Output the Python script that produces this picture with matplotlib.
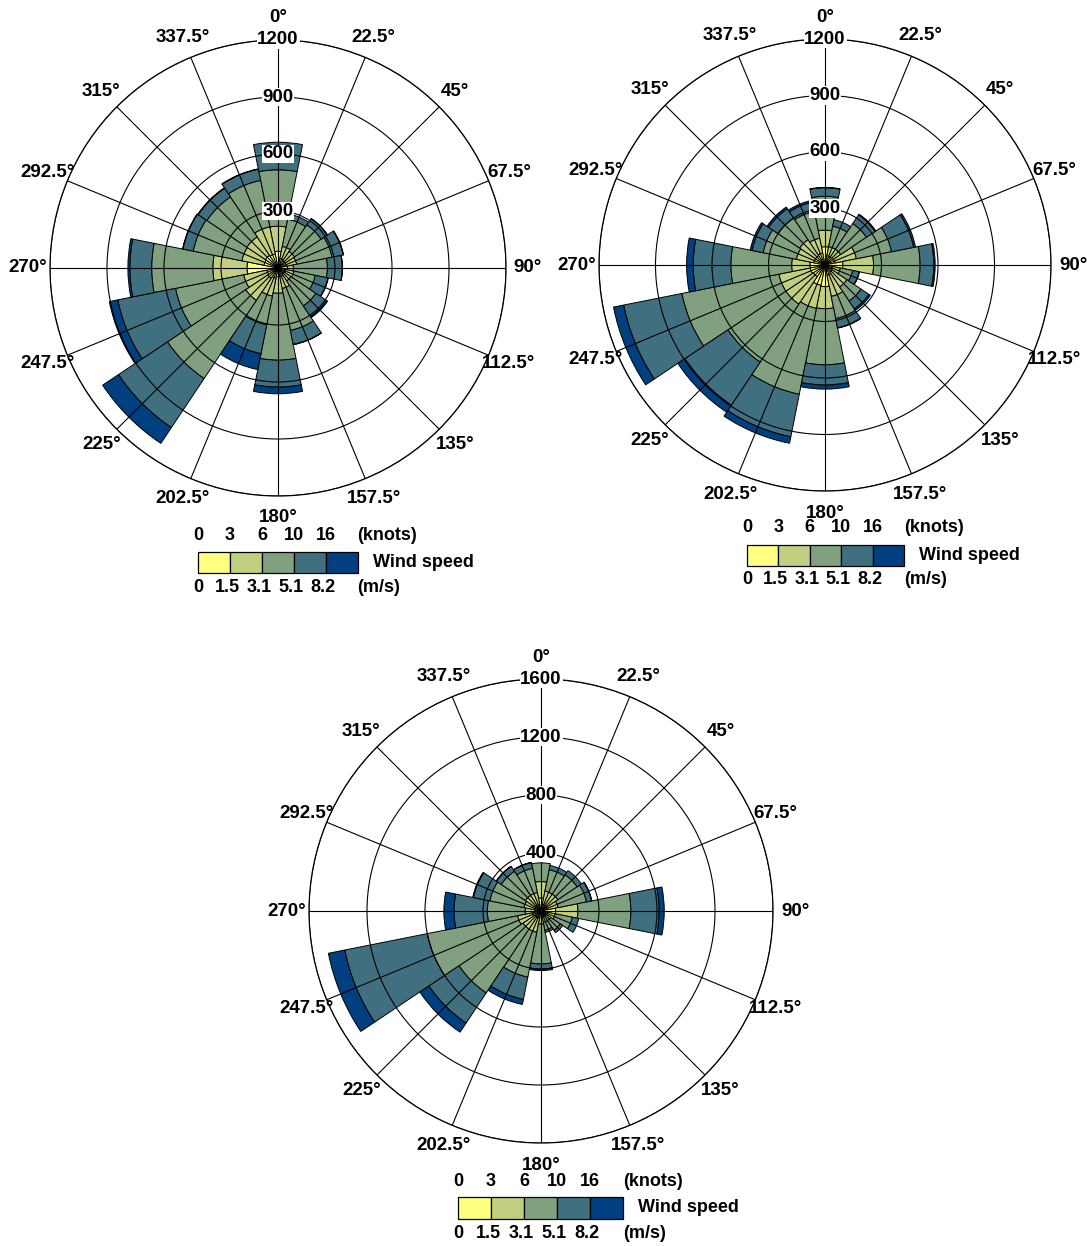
import numpy as np
import matplotlib
matplotlib.use('Agg')
import matplotlib.pyplot as plt
from matplotlib.patches import Rectangle

plt.rcParams['font.family'] = ['Liberation Sans', 'DejaVu Sans']

W, H = 1087, 1246

# ---------------- data ----------------
directions = np.arange(0, 360, 22.5)          # N, NNE, ... NNW (clockwise)
dir_labels = [f"{d:g}\u00b0" for d in directions]

speed_colors = ['#FFFF80', '#C0D080', '#80A080', '#407080', '#004080']
knots_labels = ['0', '3', '6', '10', '16']
ms_labels = ['0', '1.5', '3.1', '5.1', '8.2']

# Rose 1 (top-left): counts per speed class, per direction
r1_c1 = [88, 50, 45, 45, 50, 40, 40, 45, 45, 55, 65, 60, 163, 75, 80, 75]
r1_c2 = [132, 66, 60, 55, 31, 46, 42, 65, 88, 96, 140, 124, 180, 119, 117, 146]
r1_c3 = [297, 146, 168, 190, 179, 114, 158, 225, 352, 154, 495, 366, 322, 261, 253, 249]
r1_c4 = [145, 28, 39, 60, 78, 68, 68, 75, 142, 155, 310, 310, 115, 55, 55, 60]
r1_c5 = [0, 0, 2, 2, 1, 2, 6, 2, 35, 85, 100, 45, 10, 2, 3, 2]
r1_ticks = [300, 600, 900, 1200]

# Rose 2 (top-right)
r2_c1 = [97, 50, 50, 55, 95, 40, 45, 55, 115, 110, 75, 80, 80, 60, 60, 65]
r2_c2 = [88, 50, 50, 115, 163, 43, 95, 115, 117, 125, 175, 170, 97, 95, 102, 80]
r2_c3 = [180, 110, 165, 190, 247, 67, 90, 120, 298, 465, 370, 525, 323, 180, 138, 145]
r2_c4 = [45, 35, 55, 120, 73, 35, 50, 50, 107, 230, 275, 315, 200, 60, 60, 50]
r2_c5 = [2, 0, 5, 10, 7, 1, 10, 2, 22, 35, 45, 55, 35, 10, 10, 10]
r2_ticks = [300, 600, 900, 1200]

# Rose 3 (bottom)
r3_c1 = [90, 45, 45, 45, 100, 45, 40, 40, 40, 50, 50, 60, 40, 45, 45, 45]
r3_c2 = [113, 95, 95, 75, 155, 55, 40, 40, 50, 100, 100, 105, 70, 75, 85, 85]
r3_c3 = [129, 150, 160, 200, 365, 120, 80, 55, 275, 315, 530, 635, 260, 240, 200, 170]
r3_c4 = [0, 30, 35, 35, 195, 45, 20, 15, 35, 157, 250, 580, 230, 115, 40, 40]
r3_c5 = [0, 0, 0, 3, 35, 0, 0, 0, 11, 35, 75, 115, 70, 5, 2, 2]
r3_ticks = [400, 800, 1200, 1600]

# ---------------- figure ----------------
fig = plt.figure(figsize=(W / 100, H / 100), dpi=100)

ov = fig.add_axes([0, 0, 1, 1])
ov.set_xlim(0, W)
ov.set_ylim(H, 0)
ov.axis('off')

FS = 13.5


def draw_rose(cx, cy, rpx, ticks, classes):
    rmax = ticks[-1]
    ax = fig.add_axes([(cx - rpx) / W, 1 - (cy + rpx) / H, 2 * rpx / W, 2 * rpx / H],
                      projection='polar')
    theta = np.deg2rad(directions)
    bottom = np.zeros(len(directions))
    for vals, col in zip(classes, speed_colors):
        vals = np.asarray(vals, dtype=float)
        m = vals > 0
        ax.bar(theta[m], vals[m], width=np.deg2rad(22.5), bottom=bottom[m],
               color=col, edgecolor='black', linewidth=0.7, align='center')
        bottom += vals
    ax.set_theta_zero_location('N')
    ax.set_theta_direction(-1)
    ax.set_ylim(0, rmax)
    ax.set_yticks(ticks)
    ax.set_yticklabels([])
    ax.set_xticks(theta)
    ax.set_xticklabels([])
    ax.tick_params(length=0)
    ax.grid(True, color='black', linewidth=0.8)
    ax.set_axisbelow(False)
    ax.spines['polar'].set_color('black')
    ax.spines['polar'].set_linewidth(0.9)
    for t, lab in zip(theta, dir_labels):
        ax.text(t, rmax * (rpx + 22) / rpx, lab, ha='center', va='center',
                fontsize=FS, fontweight='bold', clip_on=False)
    for v in ticks:
        ax.text(0, v, str(v), ha='center', va='center', fontsize=FS,
                fontweight='bold', zorder=10,
                bbox=dict(facecolor='white', edgecolor='none', pad=0.6))
    return ax


def draw_legend(x0, top, bw, bh, knots_y, ms_y, unit_x, ws_x):
    for i, col in enumerate(speed_colors):
        ov.add_patch(Rectangle((x0 + i * bw, top), bw, bh, facecolor=col,
                               edgecolor='black', linewidth=0.9))
    for i, lab in enumerate(knots_labels):
        ov.text(x0 + i * bw, knots_y, lab, ha='center', va='center',
                fontsize=13, fontweight='bold')
    for i, lab in enumerate(ms_labels):
        ov.text(x0 + i * bw - (3 if i else 0), ms_y, lab, ha='center', va='center',
                fontsize=13, fontweight='bold')
    ov.text(unit_x, knots_y, '(knots)', ha='left', va='center', fontsize=13, fontweight='bold')
    ov.text(ws_x, top + bh / 2, 'Wind speed', ha='left', va='center', fontsize=13, fontweight='bold')
    ov.text(unit_x, ms_y, '(m/s)', ha='left', va='center', fontsize=13, fontweight='bold')


draw_rose(278, 268, 228, r1_ticks, [r1_c1, r1_c2, r1_c3, r1_c4, r1_c5])
draw_rose(825, 265, 226, r2_ticks, [r2_c1, r2_c2, r2_c3, r2_c4, r2_c5])
draw_rose(541, 911, 232, r3_ticks, [r3_c1, r3_c2, r3_c3, r3_c4, r3_c5])

draw_legend(198, 552, 32, 21, 536, 588, 357, 373)
draw_legend(747, 545, 31.4, 21, 528, 580, 904, 919)
draw_legend(458, 1197, 33, 22, 1181, 1234, 623, 638)

fig.savefig('out.png', dpi=100)
